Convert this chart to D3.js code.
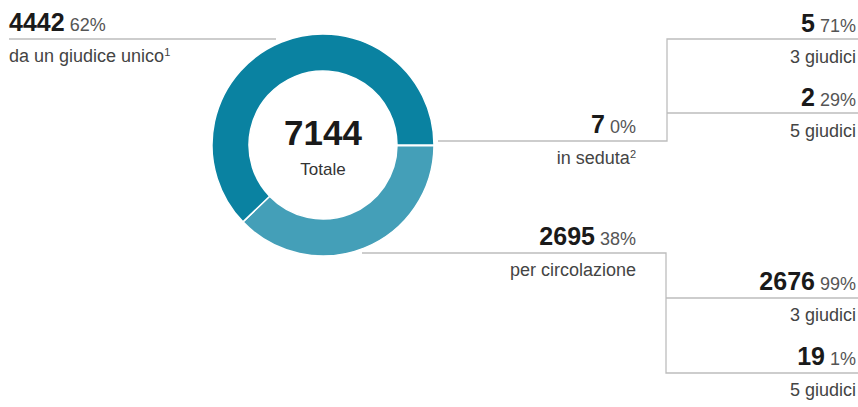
<!DOCTYPE html>
<html>
<head>
<meta charset="utf-8">
<script src="https://cdn.jsdelivr.net/npm/d3@7"></script>
<style>
  body { margin: 0; background: #fff; }
  text { font-family: "Liberation Sans", Arial, Helvetica, sans-serif; }
</style>
</head>
<body>
<div id="graph"></div>
<script>
// data
var total = 7144;
var totalLabel = "Totale";

// main split (order = drawing order of the ring, clockwise from 3 o'clock)
var mainKeys = ["seduta", "circolazione", "unico"];
var mainValues = [7, 2695, 4442];
var mainLabels = ["in seduta", "per circolazione", "da un giudice unico"];
var mainNotes = ["2", "", "1"];

// sub splits
var sedutaLabels = ["3 giudici", "5 giudici"];
var sedutaValues = [5, 2];
var circLabels = ["3 giudici", "5 giudici"];
var circValues = [2676, 19];

var width = 858, height = 407;
var cx = 323, cy = 145, rOut = 111, rIn = 74;

var colours = {seduta: "#6db5c9", circolazione: "#449fb8", unico: "#0a82a1"};
var lineCol = "#bdbdbd", numCol = "#1a1a1a", pctCol = "#555", lblCol = "#444";

var svg = d3.select('#graph')
    .append('svg')
    .attr('width', width)
    .attr('height', height);

var pie = d3.pie()
    .sort(null)
    .startAngle(Math.PI / 2)
    .endAngle(Math.PI / 2 + 2 * Math.PI);

var arc = d3.arc().innerRadius(rIn).outerRadius(rOut);

var ring = svg.append("g")
    .attr("transform", "translate(" + cx + "," + cy + ")");

ring.selectAll("path")
    .data(pie(mainValues))
    .enter().append("path")
    .attr("d", arc)
    .style("fill", function(d, i){ return colours[mainKeys[i]]; })
    .style("stroke", "#fff")
    .style("stroke-width", 1.5);

ring.append("text")
    .attr("text-anchor", "middle")
    .attr("y", 0)
    .style("font-size", "35px")
    .style("font-weight", "bold")
    .style("fill", numCol)
    .text(total);

ring.append("text")
    .attr("text-anchor", "middle")
    .attr("y", 30)
    .style("font-size", "17px")
    .style("fill", "#333")
    .text(totalLabel);

var pct = function(v, t){ return Math.round(v / t * 100) + "%"; };

// label block: number + percentage on top of a line, caption below
function label(x, y, anchor, value, share, caption, note) {
    var t = svg.append("text")
        .attr("x", x)
        .attr("y", y)
        .attr("text-anchor", anchor);
    t.append("tspan")
        .style("font-size", "25px")
        .style("font-weight", "bold")
        .style("fill", numCol)
        .text(value);
    t.append("tspan")
        .style("font-size", "18px")
        .style("fill", pctCol)
        .text("\u00a0" + share);

    var c = svg.append("text")
        .attr("x", x)
        .attr("y", y + 31)
        .attr("text-anchor", anchor)
        .style("font-size", "18px")
        .style("fill", lblCol)
        .text(caption);
    if (note) {
        c.append("tspan")
            .attr("dy", -6)
            .style("font-size", "11px")
            .text(note);
    }
}

function line(pts) {
    svg.append("path")
        .attr("d", d3.line()(pts))
        .style("fill", "none")
        .style("stroke", lineCol)
        .style("stroke-width", 1.3);
}

// da un giudice unico
line([[9, 39], [276, 39]]);
label(9, 31, "start", mainValues[2], pct(mainValues[2], total), mainLabels[2], mainNotes[2]);

// in seduta
line([[438, 141], [667, 141], [667, 39], [858, 39]]);
line([[667, 113], [858, 113]]);
label(636, 133, "end", mainValues[0], pct(mainValues[0], total), mainLabels[0], mainNotes[0]);
var sumSed = d3.sum(sedutaValues);
label(856, 32, "end", sedutaValues[0], pct(sedutaValues[0], sumSed), sedutaLabels[0]);
label(856, 106, "end", sedutaValues[1], pct(sedutaValues[1], sumSed), sedutaLabels[1]);

// per circolazione
line([[362, 253], [666, 253], [666, 373], [858, 373]]);
line([[666, 298], [858, 298]]);
label(636, 245, "end", mainValues[1], pct(mainValues[1], total), mainLabels[1], mainNotes[1]);
var sumCirc = d3.sum(circValues);
label(856, 290, "end", circValues[0], pct(circValues[0], sumCirc), circLabels[0]);
label(856, 365, "end", circValues[1], pct(circValues[1], sumCirc), circLabels[1]);
</script>
</body>
</html>
